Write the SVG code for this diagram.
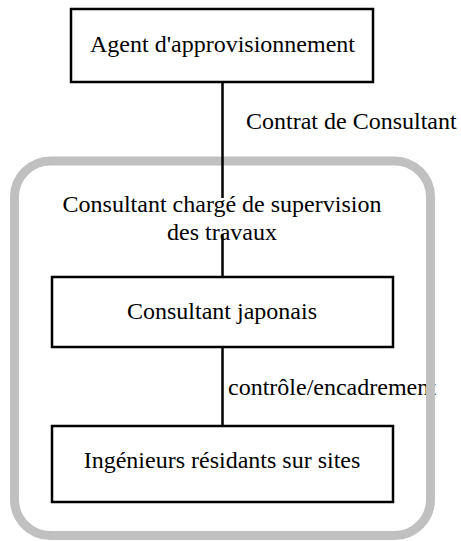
<svg xmlns="http://www.w3.org/2000/svg" width="461" height="541" viewBox="0 0 461 541">
  <style>
    .box { fill: #ffffff; stroke: #000000; stroke-width: 2.5; }
    .frame { fill: none; stroke: #c0c0c0; stroke-width: 9; }
    .link { stroke: #000000; stroke-width: 2.5; fill: none; }
    .label { font-family: "Liberation Serif", "Times New Roman", serif; font-size: 24px; fill: #000000; }
    .mid { text-anchor: middle; }
  </style>
  <rect width="461" height="541" fill="#ffffff"/>

  <!-- edge labels -->
  <text class="label" x="246" y="129">Contrat de Consultant</text>
  <text class="label" x="228" y="395">contrôle/encadrement</text>

  <!-- supervision group frame -->
  <g id="supervision-group">
    <rect class="frame" x="14.5" y="161" width="416" height="374.5" rx="36" ry="36"/>
  </g>

  <g id="connectors">
    <line class="link" x1="222.5" y1="82" x2="222.5" y2="277"/>
    <line class="link" x1="222.5" y1="347" x2="222.5" y2="426"/>
  </g>

  <!-- group title with its own white backing -->
  <g id="supervision-title">
    <rect x="62" y="198" width="320" height="36" fill="#ffffff"/>
    <text class="label mid" x="222" y="212">Consultant chargé de supervision</text>
    <text class="label mid" x="222" y="240">des travaux</text>
  </g>

  <g id="agent">
    <rect class="box" x="71" y="9" width="302" height="73"/>
    <text class="label mid" x="222.5" y="52">Agent d'approvisionnement</text>
  </g>

  <g id="consultant-japonais">
    <rect class="box" x="52" y="277" width="341" height="70"/>
    <text class="label mid" x="222" y="319">Consultant japonais</text>
  </g>

  <g id="ingenieurs">
    <rect class="box" x="52" y="426" width="341" height="76"/>
    <text class="label mid" x="222" y="468">Ingénieurs résidants sur sites</text>
  </g>
</svg>
